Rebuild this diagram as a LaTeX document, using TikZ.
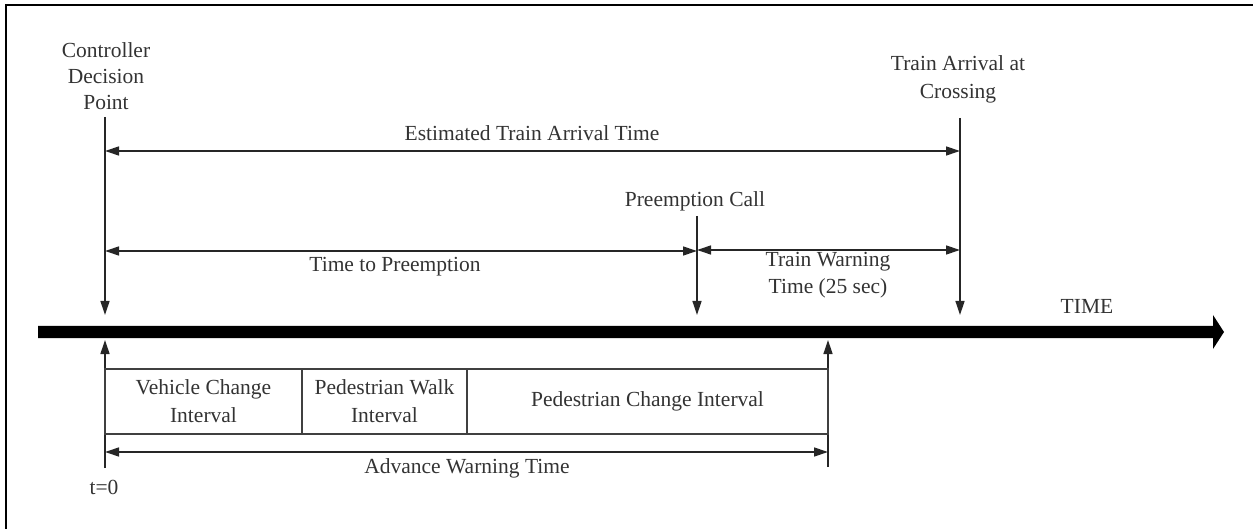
\documentclass[tikz,border=0pt]{standalone}
\usepackage{fontspec}
\setmainfont{Liberation Serif}
\usetikzlibrary{arrows.meta}
\begin{document}
\begin{tikzpicture}[x=1pt,y=-1pt,
  txt/.style={font=\fontsize{21.5}{27}\selectfont, text=black!80, inner sep=0pt, align=center},
  conn/.style={line width=1.3pt, draw=black!85},
  tip/.tip={Triangle[length=14pt,width=9pt]},
  dimarrow/.style={conn, tip-tip},
  onearrow/.style={conn, -tip},
  cell/.style={txt, draw=black!75, line width=1.3pt, minimum height=65pt, font=\fontsize{21.5}{28}\selectfont},
]
\useasboundingbox (0,0) rectangle (1253,529);
% frame
\draw[line width=1.5pt] (6,529) -- (6,5) -- (1253,5);

% time axis
\fill[black] (38,326) -- (1213,326) -- (1213,315) -- (1224,332) -- (1213,349) -- (1213,338) -- (38,338) -- cycle;
\node[txt, anchor=base] (time) at (1087,313) {TIME};

% event markers
\coordinate (cdpTop) at (105,117); \coordinate (cdpAx) at (105,315);
\coordinate (taTop)  at (960,118); \coordinate (taAx)  at (960,315);
\coordinate (pcTop)  at (697,216); \coordinate (pcAx)  at (697,315);
\coordinate (t0Bot)  at (105,468); \coordinate (t0Ax)  at (105,340);
\coordinate (awBot)  at (828,467); \coordinate (awAx)  at (828,340);

\draw[onearrow] (cdpTop) -- (cdpAx);
\draw[onearrow] (taTop) -- (taAx);
\draw[onearrow] (pcTop) -- (pcAx);
\draw[onearrow] (t0Bot) -- (t0Ax);
\draw[onearrow] (awBot) -- (awAx);

% dimension arrows
\coordinate (etaL) at (105,151); \coordinate (etaR) at (960,151);
\coordinate (ttpL) at (105,251); \coordinate (ttpR) at (697,251);
\coordinate (twtL) at (697,250); \coordinate (twtR) at (960,250);
\coordinate (awtL) at (105,452); \coordinate (awtR) at (828,452);
\draw[dimarrow] (etaL) -- (etaR);
\draw[dimarrow] (ttpL) -- (ttpR);
\draw[dimarrow] (twtL) -- (twtR);
\draw[dimarrow] (awtL) -- (awtR);

% labels
\node[txt, font=\fontsize{21.5}{26}\selectfont] (cdp) at (106,75.7) {Controller\\Decision\\Point};
\node[txt, font=\fontsize{21.5}{28}\selectfont] (tac) at (958,79) {Train Arrival at\\Crossing};
\node[txt, anchor=base] (eta) at (532,141) {Estimated Train Arrival Time};
\node[txt, anchor=base] (pc) at (695,207) {Preemption Call};
\node[txt, anchor=base] (ttp) at (395,272) {Time to Preemption};
\node[txt] (twt) at (828,275) {Train Warning\\Time (25 sec)};
\node[txt, anchor=base] (awt) at (467,473) {Advance Warning Time};
\node[txt, anchor=base] (t0) at (104,494) {t=0};

% interval boxes
\node[cell, minimum width=197pt] (vci) at (203.5,401.5) {Vehicle Change\\Interval};
\node[cell, minimum width=165pt] (pwi) at (384.5,401.5) {Pedestrian Walk\\Interval};
\node[cell, minimum width=361pt] (pci) at (647.5,401.5) {Pedestrian Change Interval};
\end{tikzpicture}
\end{document}
